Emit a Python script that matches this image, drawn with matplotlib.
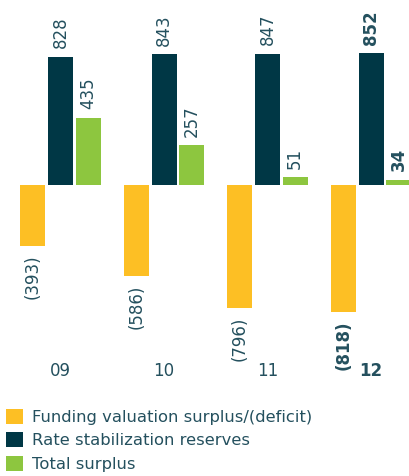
"""Funding valuation, rate stabilization reserves and total surplus by year."""

import matplotlib

matplotlib.use("Agg")
import numpy as np
from matplotlib import pyplot as plt
from matplotlib.patches import Patch

# Data
years = ["09", "10", "11", "12"]
funding = [-393, -586, -796, -818]
reserves = [828, 843, 847, 852]
surplus = [435, 257, 51, 34]
series_names = [
    "Funding valuation surplus/(deficit)",
    "Rate stabilization reserves",
    "Total surplus",
]
colors = ["#FDBF24", "#003745", "#8DC63F"]
text_color = "#24505E"

plt.rcParams["font.family"] = ["DejaVu Sans"]

fig = plt.figure(figsize=(4.09, 4.76), dpi=100)
ax = fig.add_axes([0, 121 / 476, 1, 355 / 476])

x = np.arange(len(years))
width = 0.2415
offset = 0.266

for i, (vals, color) in enumerate(zip([funding, reserves, surplus], colors)):
    xs = x + (i - 1) * offset
    ax.bar(xs, vals, width=width, color=color, linewidth=0)
    for j, (xv, v) in enumerate(zip(xs, vals)):
        label = f"({abs(v)})" if v < 0 else str(v)
        bold = j == len(years) - 1
        ax.annotate(
            label,
            (xv, v),
            xytext=(0, 6 if v >= 0 else -6),
            textcoords="offset points",
            rotation=90,
            ha="center",
            va="bottom" if v >= 0 else "top",
            fontsize=12,
            color=text_color,
            fontweight="bold" if bold else "normal",
        )

ax.set_xlim(-0.5845, 3.367)
ax.set_ylim(-1097, 1194)
ax.set_xticks(x)
ax.set_xticklabels(years, fontsize=12, color=text_color)
ax.get_xticklabels()[-1].set_fontweight("bold")
ax.tick_params(axis="x", length=0, pad=5)
ax.set_yticks([])
for spine in ax.spines.values():
    spine.set_visible(False)

handles = [Patch(facecolor=c, edgecolor="none") for c in colors]
fig.legend(
    handles,
    series_names,
    loc="upper left",
    bbox_to_anchor=(0.003, 1 - 404 / 476),
    frameon=False,
    fontsize=11.8,
    handlelength=1.0,
    handleheight=1.0,
    handletextpad=0.55,
    labelspacing=0.46,
    borderaxespad=0,
    borderpad=0.3,
    labelcolor=text_color,
)

fig.savefig("out.png", dpi=100)
